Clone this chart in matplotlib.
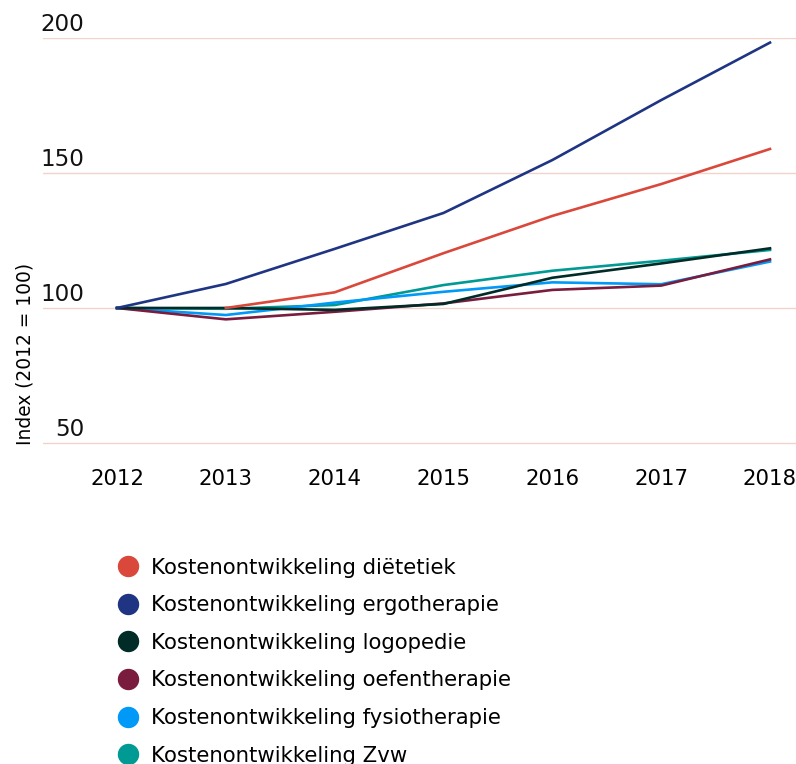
import numpy as np
import matplotlib
matplotlib.use("Agg")
import matplotlib.pyplot as plt
from matplotlib.lines import Line2D
import matplotlib.transforms as mtransforms

years = [2012, 2013, 2014, 2015, 2016, 2017, 2018]
dietetiek = [np.nan, 100, 105.8, 120.3, 134.1, 145.9, 158.9]
ergotherapie = [100, 108.9, 121.9, 135.2, 154.8, 177.0, 198.3]
logopedie = [100, 100, 99.3, 101.5, 111.2, 116.5, 122.1]
oefentherapie = [100, 95.8, 98.6, 101.7, 106.7, 108.3, 118.0]
fysiotherapie = [100, 97.4, 102.0, 106.0, 109.5, 108.8, 117.2]
zvw = [100, 99.7, 101.1, 108.5, 113.8, 117.5, 121.5]

labels = ["Kostenontwikkeling diëtetiek", "Kostenontwikkeling ergotherapie",
          "Kostenontwikkeling logopedie", "Kostenontwikkeling oefentherapie",
          "Kostenontwikkeling fysiotherapie", "Kostenontwikkeling Zvw"]
colors = ["#d9483b", "#1f3583", "#002b27", "#7a1c3e", "#0099f8", "#009a95"]
series = [dietetiek, ergotherapie, logopedie, oefentherapie, fysiotherapie, zvw]
yticks = [50, 100, 150, 200]

plt.rcParams['font.family'] = ['DejaVu Sans']
fig = plt.figure(figsize=(7.96, 7.64), dpi=100)
W, H = 796, 764
ppu = 2.7  # pixels per unit
ymin = 48
bottom_px = 443 + (50 - ymin) * ppu
ax = fig.add_axes([43 / W, 1 - bottom_px / H, (796 - 43) / W, (bottom_px - 38) / H])

draw_order = [5, 4, 3, 2, 1, 0]
for z, i in enumerate(draw_order):
    ax.plot(years, series[i], color=colors[i], lw=1.9, zorder=3 + z)

ax.set_xlim(2012 - 74 / 108.83, 2018 + 26 / 108.83)
ax.set_ylim(ymin, 200)
ax.set_yticks(yticks)
ax.set_yticklabels([])
ax.yaxis.grid(True, color="#f2d3cc", lw=1)
ax.set_axisbelow(True)
ax.set_xticks(years)
ax.set_xticklabels([str(y) for y in years], fontsize=15.3)
ax.tick_params(axis='x', length=0, pad=14.5)
ax.tick_params(axis='y', length=0)
for s in ax.spines.values():
    s.set_visible(False)

trans = mtransforms.blended_transform_factory(ax.transAxes, ax.transData)
for v in yticks:
    ax.annotate(str(v), xy=((84 - 43) / (796 - 43), v), xycoords=trans,
                xytext=(0, 5), textcoords='offset points',
                ha='right', va='baseline', fontsize=16.6, color='#111111')

fig.text(25 / W, 1 - 354 / H, "Index (2012 = 100)", rotation=90,
         ha='center', va='center', fontsize=13.4)

handles = [Line2D([], [], marker='o', linestyle='', markersize=14.4,
                  color=c) for c in colors]
fig.legend(handles, labels, loc='upper left',
           bbox_to_anchor=(117 / W, 1 - 557.5 / H), frameon=False,
           fontsize=15.3, handlelength=1.0, handletextpad=0.6,
           labelspacing=0.83, borderpad=0, borderaxespad=0)

fig.savefig("out.png", dpi=100)
